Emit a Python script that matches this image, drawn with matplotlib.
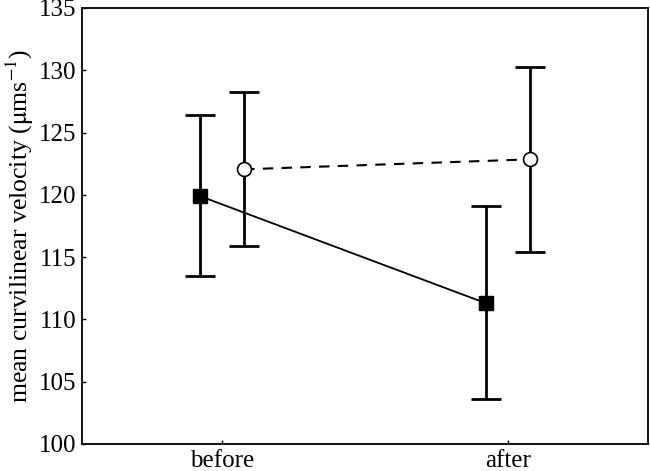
import numpy as np
import matplotlib
matplotlib.use('Agg')
import matplotlib.pyplot as plt

plt.rcParams['font.family'] = ['Liberation Serif', 'DejaVu Serif']
plt.rcParams['mathtext.fontset'] = 'stix'

# data
groups = ['before', 'after']
sq_mean = [119.9, 111.3]
sq_low = [113.5, 103.6]
sq_high = [126.4, 119.1]
circ_mean = [122.05, 122.85]
circ_low = [115.9, 115.4]
circ_high = [128.25, 130.3]

x = np.arange(len(groups))
off = 0.077

fig = plt.figure(figsize=(6.5, 4.71), dpi=100)
ax = fig.add_axes([82 / 650, 1 - 444 / 471, (648 - 82) / 650, (444 - 8) / 471])

sq_err = [np.subtract(sq_mean, sq_low), np.subtract(sq_high, sq_mean)]
circ_err = [np.subtract(circ_mean, circ_low), np.subtract(circ_high, circ_mean)]

ax.errorbar(x - off, sq_mean, yerr=sq_err, fmt='none', ecolor='black',
            elinewidth=2, capsize=10.5, capthick=2, zorder=2)
ax.errorbar(x + off, circ_mean, yerr=circ_err, fmt='none', ecolor='black',
            elinewidth=2, capsize=10.5, capthick=2, zorder=2)
ax.plot(x - off, sq_mean, '-', color='black', lw=1.3, marker='s', ms=9.5,
        mfc='black', mec='black', zorder=3)
ax.plot(x + off, circ_mean, '--', color='black', lw=1.5, marker='o', ms=10,
        mfc='white', mec='black', mew=1.2, dashes=(5, 4), zorder=3)

ax.set_xlim(-0.49, 1.49)
ax.set_ylim(100, 135)
ax.set_xticks(x)
ax.set_xticklabels(groups)
ax.set_yticks(np.arange(100, 136, 5))
ax.tick_params(direction='in', length=3, width=1, labelsize=18, pad=4)
for s in ax.spines.values():
    s.set_linewidth(1.3)

ax.set_ylabel(r'mean curvilinear velocity ($\mathrm{\mu}$ms$^{-1}$)', fontsize=18.5, labelpad=2)

fig.savefig('out.png', dpi=100)
